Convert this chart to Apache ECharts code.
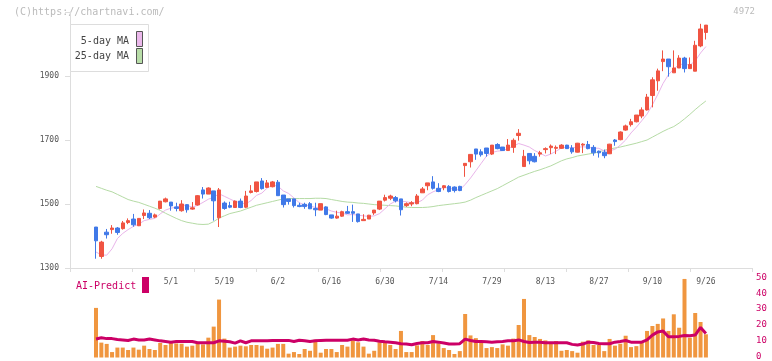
<!DOCTYPE html>
<html><head><meta charset="utf-8">
<script src="https://cdn.jsdelivr.net/npm/echarts@6/dist/echarts.min.js"></script>
<style>html,body{margin:0;padding:0;background:#fff}#c{width:772px;height:361px}</style>
</head><body><div id="c"></div>
<script>
const dates = ["4/10","4/11","4/14","4/15","4/16","4/17","4/18","4/21","4/22","4/23","4/24","4/25","4/28","4/30",
"5/1","5/2","5/7","5/8","5/9","5/12","5/13","5/14","5/15","5/16","5/19","5/20","5/21","5/22","5/23","5/26","5/27","5/28","5/29","5/30",
"6/2","6/3","6/4","6/5","6/6","6/9","6/10","6/11","6/12","6/13","6/16","6/17","6/18","6/19","6/20","6/23","6/24","6/25","6/26","6/27","6/30",
"7/1","7/2","7/3","7/4","7/7","7/8","7/9","7/10","7/11","7/14","7/15","7/16","7/17","7/18","7/22","7/23","7/24","7/25","7/28","7/29","7/30","7/31",
"8/1","8/4","8/5","8/6","8/7","8/8","8/12","8/13","8/14","8/15","8/18","8/19","8/20","8/21","8/22","8/25","8/26","8/27","8/28","8/29",
"9/1","9/2","9/3","9/4","9/5","9/8","9/9","9/10","9/11","9/12","9/16","9/17","9/18","9/19","9/22","9/24","9/25","9/26"];
const labelDates = ["5/1","5/19","6/2","6/16","6/30","7/14","7/29","8/13","8/27","9/10","9/26"];

const open = [1428,1336,1412,1420,1425,1423,1442,1453,1432,1464, 1471,1459,1486,1507,1506,1491,1479,1498,1484,1497,
1544,1531,1541,1457,1503,1495,1489,1509,1490,1536, 1539,1572,1552,1554,1568,1528,1516,1516,1496,1499,
1501,1486,1481,1491,1466,1456,1462,1476,1476,1469, 1448,1453,1472,1484,1512,1518,1520,1516,1495,1500,
1501,1535,1557,1569,1549,1551,1555,1553,1555,1620, 1632,1672,1663,1675,1656,1686,1678,1667,1677,1714,
1617,1658,1649,1656,1670,1676,1674,1674,1684,1675, 1662,1684,1686,1677,1665,1662,1657,1700,1701,1731,
1748,1757,1775,1794,1839,1885,1945,1953,1910,1925, 1956,1923,1915,1994,2036];
const close = [1385,1381,1404,1425,1411,1441,1448,1435,1455,1472, 1457,1466,1509,1516,1494,1486,1500,1482,1488,1526,
1531,1550,1510,1544,1486,1490,1509,1489,1525,1541, 1569,1548,1566,1569,1526,1498,1508,1495,1492,1492,
1485,1482,1501,1467,1456,1462,1476,1471,1471,1445, 1452,1465,1481,1509,1520,1525,1510,1482,1501,1504,
1525,1547,1566,1549,1539,1557,1539,1542,1542,1627, 1655,1656,1654,1658,1684,1673,1667,1684,1699,1721,
1649,1635,1632,1660,1673,1681,1677,1684,1673,1663, 1690,1687,1673,1660,1660,1651,1687,1695,1725,1744,
1757,1778,1794,1834,1888,1916,1953,1929,1925,1956, 1923,1936,1996,2047,2059];
const low = [1329,1329,1392,1407,1404,1420,1437,1429,1431,1453, 1453,1456,1483,1505,1479,1477,1476,1473,1482,1495,
1517,1531,1448,1428,1482,1487,1488,1487,1487,1533, 1536,1545,1550,1552,1526,1489,1498,1489,1490,1485,
1485,1462,1481,1465,1454,1454,1460,1469,1444,1442, 1448,1453,1466,1481,1508,1512,1505,1464,1491,1493,
1499,1535,1543,1545,1537,1543,1536,1536,1540,1585, 1614,1638,1648,1648,1653,1671,1666,1666,1660,1698,
1617,1624,1630,1648,1658,1656,1656,1672,1672,1657, 1661,1659,1671,1651,1645,1643,1656,1682,1699,1729,
1742,1755,1768,1792,1802,1854,1915,1898,1910,1925, 1911,1923,1915,1990,2014];
const high = [1428,1385,1422,1434,1428,1447,1455,1469,1456,1483, 1481,1470,1509,1520,1506,1504,1512,1499,1506,1528,
1553,1552,1541,1550,1508,1507,1511,1517,1541,1559, 1569,1581,1575,1572,1575,1528,1516,1516,1504,1504,
1506,1504,1501,1493,1466,1479,1479,1494,1498,1469, 1468,1466,1481,1509,1529,1529,1525,1516,1505,1509,
1531,1553,1566,1587,1565,1559,1559,1555,1557,1627, 1655,1672,1671,1675,1684,1690,1678,1703,1705,1734,
1669,1658,1659,1666,1677,1686,1683,1687,1685,1684, 1691,1690,1697,1684,1667,1670,1688,1703,1727,1748,
1766,1778,1802,1844,1896,1923,1980,1953,1980,1965, 1960,1958,2010,2063,2059];
const ma5 = [1350,1341,1340,1360,1392,1408,1420,1430,1437,1448, 1452,1455,1469,1481,1487,1490,1496,1496,1490,1496,
1505,1515,1521,1532,1524,1516,1508,1504,1500,1511, 1527,1534,1550,1559,1556,1541,1533,1519,1504,1497,
1494,1489,1490,1485,1478,1474,1472,1466,1467,1465, 1463,1461,1463,1470,1485,1500,1509,1509,1507,1504,
1504,1512,1529,1538,1545,1552,1550,1545,1544,1561, 1581,1604,1627,1650,1661,1665,1667,1673,1681,1689,
1684,1678,1667,1659,1650,1656,1665,1675,1678,1676, 1677,1679,1677,1675,1674,1666,1666,1671,1684,1700,
1722,1740,1760,1781,1810,1842,1877,1904,1922,1936, 1937,1934,1947,1972,1992];
const ma25 = [1555,1549,1543,1538,1530,1522,1514,1509,1505,1499, 1493,1487,1480,1471,1463,1455,1448,1443,1440,1437,
1436,1437,1445,1456,1463,1470,1474,1478,1484,1490, 1496,1500,1504,1508,1512,1516,1517,1517,1517,1517,
1517,1518,1518,1517,1514,1511,1508,1506,1505,1503, 1502,1500,1498,1497,1496,1495,1494,1492,1490,1489,
1489,1489,1490,1492,1495,1497,1499,1501,1503,1506, 1512,1520,1527,1534,1541,1548,1557,1566,1575,1584,
1590,1596,1602,1607,1613,1619,1627,1635,1641,1645, 1650,1653,1656,1659,1663,1668,1672,1675,1678,1682,
1686,1690,1695,1700,1709,1718,1727,1735,1742,1753, 1766,1780,1795,1809,1822];
const volume = [31,9.3,8.5,3.4,6.2,6.2,4.7,6.2,4.9,7.4, 5.3,4.7,9.1,7.8,10.3,8.8,8.6,6.8,7.4,9.5,
8.2,12.4,19.3,36.2,11.8,6.2,6.8,7.4,7.0,7.8, 7.8,7.4,5.5,6.2,8.5,8.5,2.4,3.4,2.2,5.3,
4.2,11.1,3.0,5.3,5.3,3.4,7.8,6.8,10.7,9.5, 6.8,2.4,4.2,9.5,9.1,7.8,5.3,16.6,3.4,3.4,
7.6,10.3,7.8,14.0,8.8,5.9,4.7,2.2,4.0,27.2, 13.8,12.1,10.1,5.9,6.5,5.9,8.2,7.4,11.8,20.3,
36.6,14.0,12.8,11.6,10.7,9.5,10.3,4.2,4.7,4.0, 3.0,9.9,10.7,7.8,7.8,4.0,11.6,7.4,8.6,13.6,
6.5,7.1,9.5,16.6,19.7,21.0,24.4,16.6,27.0,18.6, 49.1,12.4,27.8,22.2,14.5];
const aiPredict = [11.6,12.3,11.8,11.8,11.2,11.0,10.6,11.5,11.0,11.0, 11.5,11.0,10.4,10.0,9.6,10.0,10.0,10.0,10.0,9.2,
9.2,9.2,9.2,10.4,10.2,9.8,9.0,10.4,9.2,10.4, 10.4,10.4,10.4,10.6,10.7,10.7,10.7,10.0,10.8,10.4,
10.0,10.4,10.7,10.8,10.8,10.8,10.8,10.8,11.5,11.0, 11.5,11.0,10.8,10.2,9.8,9.6,9.2,8.6,8.5,8.0,
8.8,9.2,9.2,10.0,9.6,9.0,8.4,8.4,8.6,11.5, 10.6,10.0,10.0,9.8,9.6,9.8,10.0,10.4,10.4,11.0,
10.0,9.4,9.6,9.6,9.2,9.2,9.2,9.2,9.2,8.2, 7.8,8.4,9.6,9.4,8.8,8.6,8.6,9.6,10.0,10.6,
9.6,9.6,9.6,11.0,14.0,16.0,16.5,13.0,13.0,13.2, 13.8,13.6,14.0,18.8,15.0];
const priceTicks = [1300,1500,1700,1900];
const predictTicks = [0,10,20,30,40,50];

const candles = dates.map((d,i)=>[open[i],close[i],low[i],high[i]]);
const MONO = '"DejaVu Sans Mono", "Liberation Mono", monospace';
const DL = 93.325, DW = 615.25;

const chart = echarts.init(document.getElementById('c'), null, {renderer:'canvas'});
chart.setOption({
  animation:false,
  backgroundColor:'#fff',
  grid:[
    {left:DL, width:DW, top:12, height:256},
    {left:70, right:20, top:12, height:256},
    {left:DL, width:DW, top:277.5, height:80},
    {left:70, right:20, top:277.5, height:80}
  ],
  xAxis:[
    {gridIndex:0, type:'category', data:dates, boundaryGap:true,
     axisLine:{show:false}, axisTick:{show:false}, splitLine:{show:false},
     axisLabel:{interval:(idx,val)=>labelDates.indexOf(val)>=0, margin:10, fontSize:8, color:'#555', fontFamily:MONO}},
    {gridIndex:1, type:'value', min:0, max:11, interval:1,
     axisLine:{show:true, lineStyle:{color:'#ddd', width:1}},
     axisTick:{show:true, length:4, lineStyle:{color:'#ddd'}},
     axisLabel:{show:false}, splitLine:{show:false}},
    {gridIndex:2, type:'category', data:dates, boundaryGap:true, show:false},
    {gridIndex:3, type:'value', min:0, max:1, show:false}
  ],
  yAxis:[
    {gridIndex:0, type:'value', min:1300, max:2100, show:false, splitLine:{show:false}},
    {gridIndex:1, type:'value', min:1300, max:2100, interval:200,
     axisLine:{show:true, lineStyle:{color:'#ddd'}},
     axisTick:{show:true, length:5, lineStyle:{color:'#ddd'}},
     axisLabel:{formatter:v=>priceTicks.indexOf(v)>=0?String(v):'', margin:11, fontSize:8, color:'#555', fontFamily:MONO},
     splitLine:{show:false}},
    {gridIndex:2, type:'value', min:0, max:50, show:false, splitLine:{show:false}},
    {gridIndex:3, type:'value', min:0, max:50, interval:10, position:'right',
     axisLine:{show:false}, axisTick:{show:false}, splitLine:{show:false},
     axisLabel:{formatter:v=>predictTicks.indexOf(v)>=0?String(v):'', margin:4, fontSize:9, color:'#CC0066', fontFamily:MONO}}
  ],
  series:[
    {name:'25-day MA', type:'line', xAxisIndex:0, yAxisIndex:0, data:ma25, showSymbol:false, symbol:'none',
     lineStyle:{color:'#B5DBA5', width:1}, z:1},
    {name:'5-day MA', type:'line', xAxisIndex:0, yAxisIndex:0, data:ma5, showSymbol:false, symbol:'none',
     lineStyle:{color:'#E9B5EA', width:1}, z:1},
    {name:'price', type:'candlestick', xAxisIndex:0, yAxisIndex:0, data:candles, barWidth:4, z:3,
     itemStyle:{color:'#F05442', color0:'#4079E8', borderColor:'#F05442', borderColor0:'#4079E8', borderWidth:1}},
    {name:'volume', type:'bar', xAxisIndex:2, yAxisIndex:2, data:volume, barWidth:4,
     itemStyle:{color:'#F0963F'}, z:2},
    {name:'AI-Predict', type:'line', xAxisIndex:2, yAxisIndex:2, data:aiPredict, showSymbol:false, symbol:'none',
     lineStyle:{color:'#CC0066', width:3}, z:3}
  ],
  graphic:[
    {type:'text', left:14, top:7, style:{text:'(C)https://chartnavi.com/', font:'10px '+MONO, fill:'#bbb'}},
    {type:'text', right:17, top:7, style:{text:'4972', font:'9px '+MONO, fill:'#bbb'}},
    {type:'rect', shape:{x:70.5, y:24.5, width:78, height:47}, style:{fill:'#fff', stroke:'#ddd', lineWidth:1}, z:10},
    {type:'text', x:129, y:41.5, style:{text:'5-day MA', font:'10px '+MONO, fill:'#444', align:'right', verticalAlign:'middle'}, z:11},
    {type:'rect', shape:{x:136.5, y:31.5, width:6, height:15}, style:{fill:'#EBB8EB', stroke:'#555', lineWidth:1}, z:11},
    {type:'text', x:129, y:56.5, style:{text:'25-day MA', font:'10px '+MONO, fill:'#444', align:'right', verticalAlign:'middle'}, z:11},
    {type:'rect', shape:{x:136.5, y:48.5, width:6, height:15}, style:{fill:'#B8DDA8', stroke:'#555', lineWidth:1}, z:11},
    {type:'text', x:76, y:286, style:{text:'AI-Predict', font:'10px '+MONO, fill:'#CC0066', verticalAlign:'middle'}, z:11},
    {type:'rect', shape:{x:142, y:277, width:7, height:16}, style:{fill:'#CC0066'}, z:11}
  ]
});
</script></body></html>
